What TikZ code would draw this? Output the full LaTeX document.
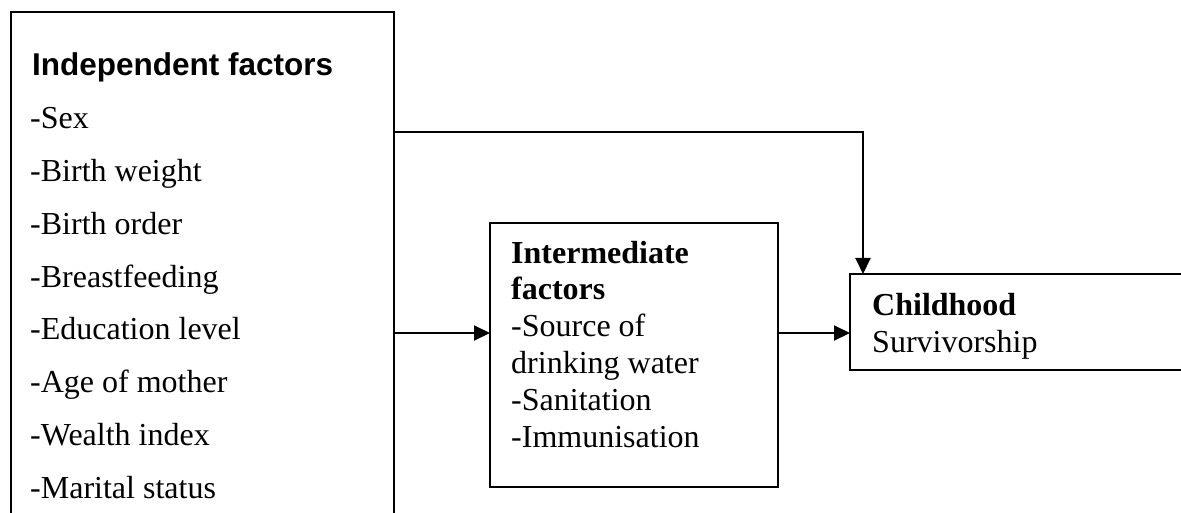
\documentclass[tikz,border=0pt]{standalone}
\usepackage{fontspec}
\setmainfont{Liberation Serif}
\newfontfamily\headfont{Liberation Sans}
\usetikzlibrary{arrows.meta}
\begin{document}
\begin{tikzpicture}[x=1pt,y=-1pt,
  box/.style={draw, line width=2pt, inner sep=0pt, outer sep=0pt, anchor=north west},
  txt/.style={anchor=base west, inner sep=0pt, font=\fontsize{32}{37}\selectfont},
  btxt/.style={txt, font=\bfseries\fontsize{32}{37}\selectfont},
  conn/.style={line width=2pt, -{Triangle[length=16pt,width=15pt]}}]
\useasboundingbox (0,0) rectangle (1181,513);
% boxes
\node[box, minimum width=383pt, minimum height=540pt] (indep) at (11,12) {};
\node[box, minimum width=288pt, minimum height=264pt] (inter) at (490,223) {};
\node[box, minimum width=400pt, minimum height=96pt] (child) at (850,274) {};
% independent factors
\node[txt, font=\headfont\bfseries\fontsize{31.5}{37}\selectfont] (h1) at (32,76) {Independent factors};
\node[txt] (i1) at (30,129) {-Sex};
\node[txt] (i2) at (30,181.7) {-Birth weight};
\node[txt] (i3) at (30,234.4) {-Birth order};
\node[txt] (i4) at (30,287.1) {-Breastfeeding};
\node[txt] (i5) at (30,339.9) {-Education level};
\node[txt] (i6) at (30,392.6) {-Age of mother};
\node[txt] (i7) at (30,445.3) {-Wealth index};
\node[txt] (i8) at (30,498) {-Marital status};
% intermediate
\node[btxt] (m1) at (511,263) {Intermediate};
\node[btxt] (m2) at (511,299.5) {factors};
\node[txt] (m3) at (511,336) {-Source of};
\node[txt] (m4) at (511,373) {drinking water};
\node[txt] (m5) at (511,410) {-Sanitation};
\node[txt] (m6) at (511,447) {-Immunisation};
% childhood
\node[btxt] (c1) at (872,315) {Childhood};
\node[txt] (c2) at (872,352) {Survivorship};
% connectors
\coordinate (turn) at (863,0);
\draw[conn] (indep.east |- 0,132) -| (turn |- child.north);
\draw[conn] (indep.east |- 0,333) -- (inter.west |- 0,333);
\draw[conn] (inter.east |- 0,333) -- (child.west |- 0,333);
\end{tikzpicture}
\end{document}
